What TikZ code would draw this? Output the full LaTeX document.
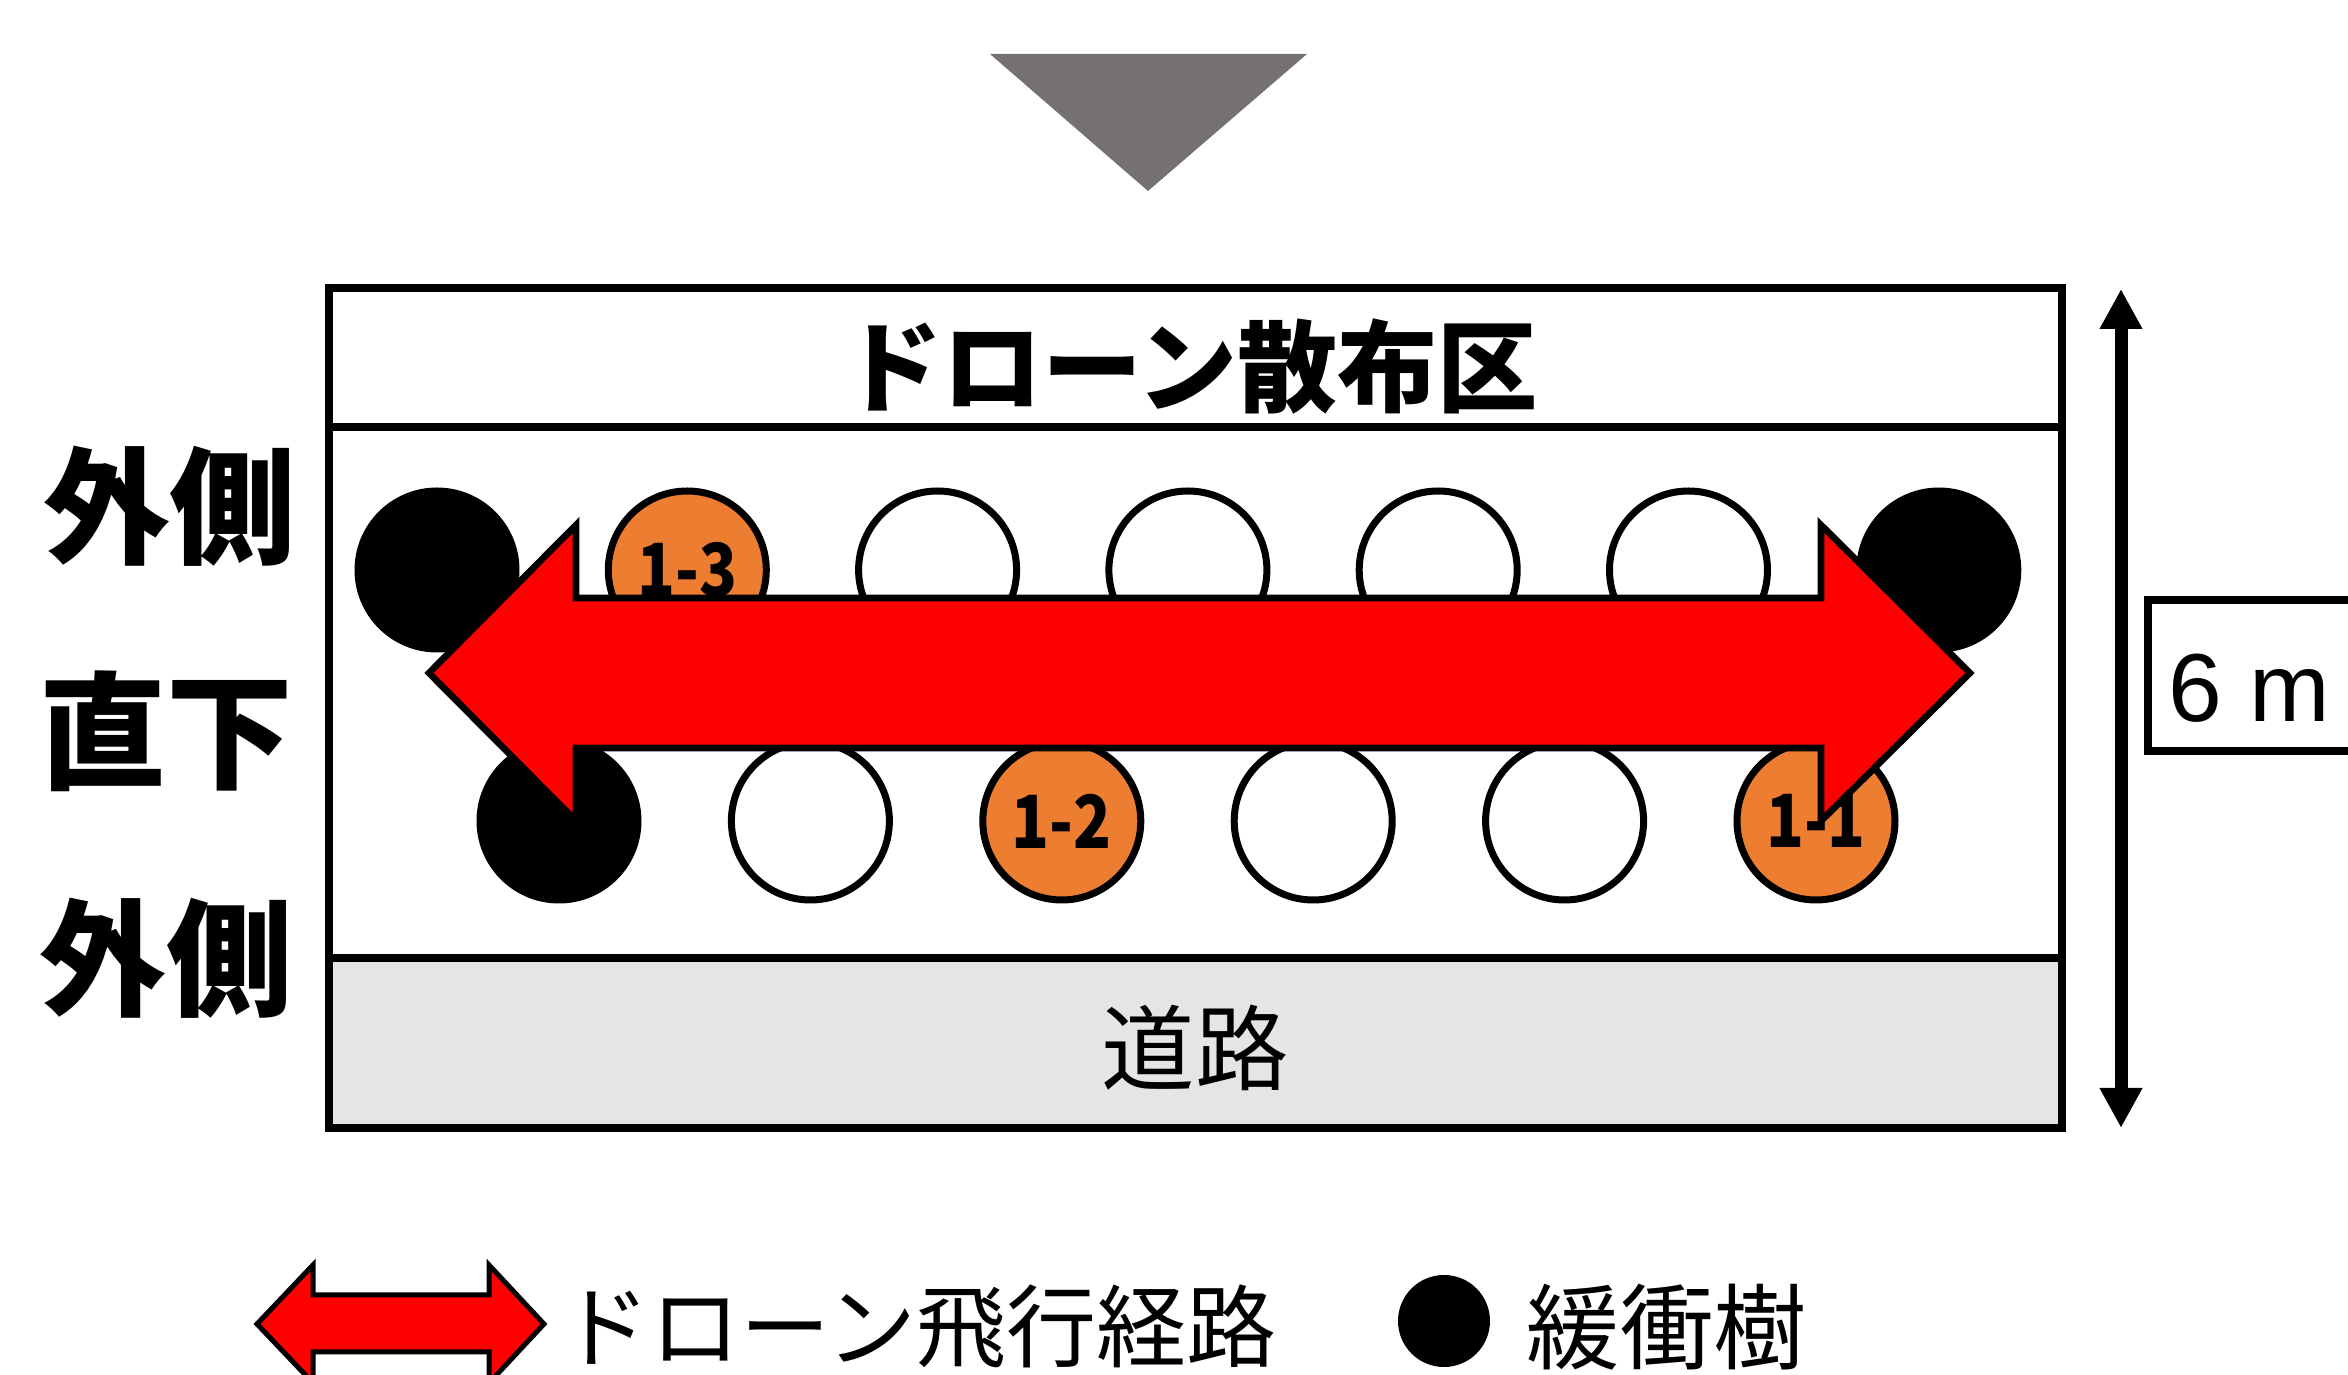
\documentclass[tikz,border=0pt]{standalone}
\usepackage{fontspec}
\usetikzlibrary{arrows.meta}
\setmainfont{Liberation Sans}
\newfontfamily\jp{Noto Sans CJK JP}
\definecolor{orangeC}{HTML}{ED7D31}
\definecolor{triGray}{HTML}{757170}
\definecolor{roadGray}{HTML}{E5E5E5}
\newcommand{\narrowlbl}[1]{\scalebox{0.85}[1]{#1}}
\begin{document}
\begin{tikzpicture}[x=0.3pt,y=-0.3pt,
  tree/.style={circle,draw=black,line width=2.1pt,minimum size=47.4pt,inner sep=0pt},
  buffer/.style={tree,fill=black},
  plain/.style={tree,fill=white},
  sample/.style={tree,fill=orangeC,font=\jp\bfseries\fontsize{22pt}{24pt}\selectfont},
  bigarrow/.style={fill=red,draw=black,line width=2pt,line join=miter},
  frame/.style={draw=black,line width=2.2pt},
  side/.style={font=\jp\bfseries\fontsize{38pt}{40pt}\selectfont,inner sep=0pt},
  legend/.style={font=\jp\fontsize{27pt}{29pt}\selectfont,inner sep=0pt,anchor=west},
  dim/.style={line width=3.9pt,{Triangle[width=12pt,length=12pt]}-{Triangle[width=12pt,length=12pt]}}]
\useasboundingbox (0,0) rectangle (2348,1375);
\clip (0,0) rectangle (2348,1375);

% top pointer triangle
\fill[triGray] (990,54) -- (1307,54) -- (1148,191) -- cycle;

% field
\fill[roadGray] (329,958) rectangle (2062,1128);
\draw[frame] (329,288) rectangle (2062,1128);
\draw[frame] (329,427) -- (2062,427);
\draw[frame] (329,958) -- (2062,958);
\node[font=\jp\bfseries\fontsize{30pt}{32pt}\selectfont,inner sep=0pt] (header) at (1190,367) {ドローン散布区};
\node[font=\jp\fontsize{28pt}{30pt}\selectfont,inner sep=0pt] (road) at (1195,1048) {道路};

% top row of trees
\node[buffer] (a1) at (437,570) {};
\node[sample] (a2) at (687.3,570) {\narrowlbl{1-3}};
\node[plain]  (a3) at (937.6,570) {};
\node[plain]  (a4) at (1187.9,570) {};
\node[plain]  (a5) at (1438.2,570) {};
\node[plain]  (a6) at (1688.5,570) {};
\node[buffer] (a7) at (1938.8,570) {};
% bottom row of trees
\node[buffer] (b1) at (559,821) {};
\node[plain]  (b2) at (810.4,821) {};
\node[sample] (b3) at (1061.8,821) {\narrowlbl{1-2}};
\node[plain]  (b4) at (1313.2,821) {};
\node[plain]  (b5) at (1564.6,821) {};
\node[sample] (b6) at (1816,821) {\narrowlbl{1-1}};

% drone flight path arrow
\draw[bigarrow] (429,673) -- (576,525) -- (576,598) -- (1821,598) -- (1821,525)
  -- (1970,673) -- (1821,821) -- (1821,748) -- (576,748) -- (576,821) -- cycle;

% side labels
\node[side] (out1) at (170,506) {外側};
\node[side] (under) at (166,731) {直下};
\node[side] (out2) at (166,958) {外側};

% dimension
\coordinate (dtop) at (2121,289);
\coordinate (dbot) at (2121,1128);
\draw[dim] (dtop) -- (dbot);
\draw[line width=2.2pt] (2400,600) -- (2148,600) -- (2148,751) -- (2400,751);
\node[font=\fontsize{29pt}{31pt}\selectfont,inner sep=0pt,anchor=base west] (six) at (2168,722) {6 m};

% legend
\draw[bigarrow,line width=1.5pt] (257,1324) -- (313,1265) -- (313,1295) -- (489,1295) -- (489,1265)
  -- (544,1324) -- (489,1383) -- (489,1352) -- (313,1352) -- (313,1383) -- cycle;
\node[legend] (lpath) at (560,1327) {ドローン飛行経路};
\node[circle,fill=black,minimum size=27.6pt,inner sep=0pt] (ldot) at (1444,1321) {};
\node[legend,font=\jp\fontsize{28pt}{30pt}\selectfont] (lbuf) at (1526,1327) {緩衝樹};
\end{tikzpicture}
\end{document}
